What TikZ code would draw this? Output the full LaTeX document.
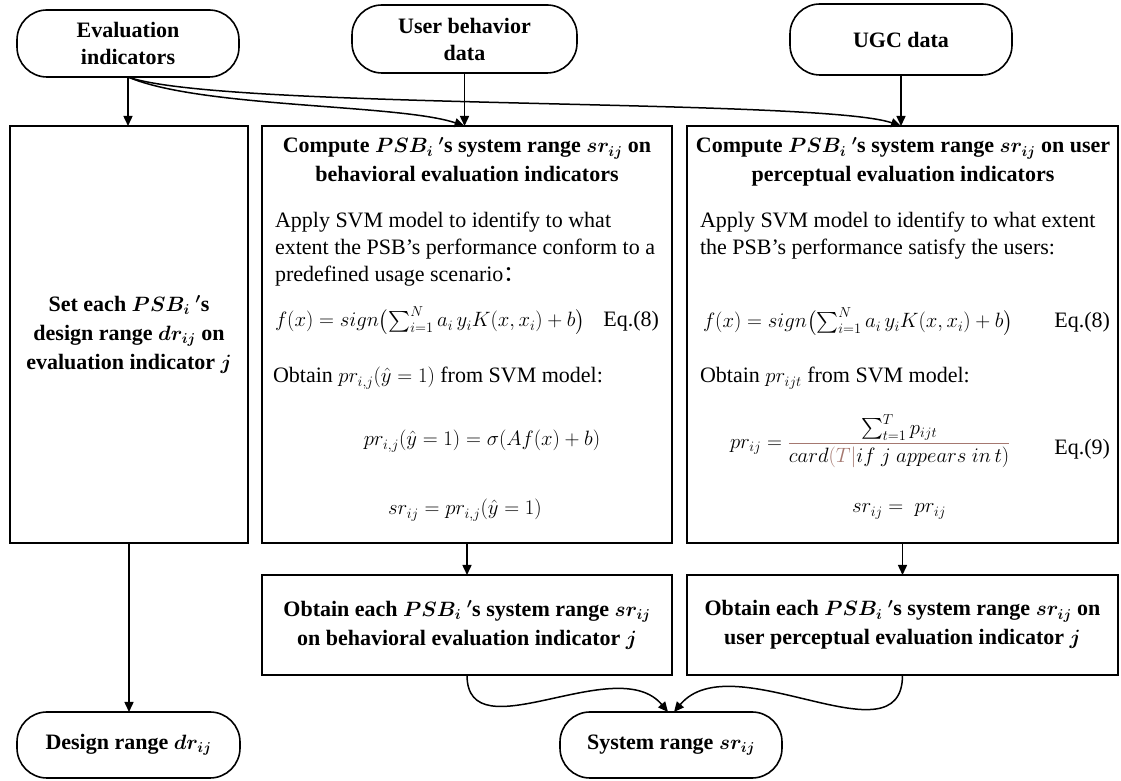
\documentclass[tikz,border=0pt]{standalone}
\usepackage{fontspec}
\setmainfont{Liberation Serif}
\newfontfamily\cjk{Noto Sans CJK SC}
\usepackage{amsmath}
\usetikzlibrary{arrows.meta}
\definecolor{fracbrown}{RGB}{165,120,112}

\begin{document}
\begin{tikzpicture}[x=1pt,y=1pt,
  every node/.style={inner sep=0pt, outer sep=0pt},
  pill/.style={draw, line width=1.6pt, rounded corners=30pt,
    minimum width=222pt, minimum height=67pt, align=center,
    font=\fontsize{22}{27}\selectfont\bfseries\boldmath},
  stepbox/.style={draw, line width=1.6pt, align=center,
    font=\fontsize{22}{29}\selectfont\bfseries\boldmath},
  titletext/.style={font=\fontsize{22}{29}\selectfont\bfseries\boldmath},
  bodytext/.style={font=\fontsize{22}{27}\selectfont},
  arr/.style={line width=1.5pt, -{Triangle[length=10pt,width=9pt]}}
]
\useasboundingbox (0,0) rectangle (1121,781);

% start and end terminals
\node[pill] (evalpill) at (128,737.5) {Evaluation\\indicators};
\node[pill, minimum width=225pt, minimum height=68pt] (userpill) at (464.5,742) {User behavior\\data};
\node[pill, minimum height=71pt] (ugcpill) at (901,741.5) {UGC data};
\node[pill, minimum width=223pt, minimum height=66pt] (designpill) at (128.5,36) {Design range $dr_{ij}$};
\node[pill, minimum height=66pt] (syspill) at (671,36) {System range $sr_{ij}$};

% process boxes
\node[stepbox, minimum width=238pt, minimum height=417pt] (setbox) at (129,446.5)
  {Set each $PSB_i$ $'$s\\design range $dr_{ij}$ on\\evaluation indicator $j$};
\node[stepbox, minimum width=410pt, minimum height=417pt] (behbox) at (467,446.5) {};
\node[stepbox, minimum width=431pt, minimum height=417pt] (ugcbox) at (902.5,446.5) {};
\node[stepbox, minimum width=410pt, minimum height=100pt] (behlow) at (467,156)
  {Obtain each $PSB_i$ $'$s system range $sr_{ij}$\\on behavioral evaluation indicator $j$};
\node[stepbox, minimum width=431pt, minimum height=100pt] (ugclow) at (902.5,156)
  {Obtain each $PSB_i$ $'$s system range $sr_{ij}$ on\\user perceptual evaluation indicator $j$};

% behavioural box contents
\node[titletext, anchor=base] (behtA) at (467,628) {Compute $PSB_i$ $'$s system range $sr_{ij}$ on};
\node[titletext, anchor=base] (behtB) at (467,599) {behavioral evaluation indicators};
\node[bodytext, anchor=base west] (behpA) at (275,553) {Apply SVM model to identify to what};
\node[bodytext, anchor=base west] (behpB) at (275,526) {extent the PSB’s performance conform to a};
\node[bodytext, anchor=base west] (behpC) at (275,499) {predefined usage scenario{\cjk ：}};
\node[bodytext, anchor=base west] (beheq) at (275,454)
  {$f(x) = sign\bigl(\sum_{i=1}^{N} a_i\, y_i K(x,x_i) + b\bigr)$};
\node[bodytext, anchor=base east] (beheqno) at (659,454) {Eq.(8)};
\node[bodytext, anchor=base west] (behob) at (273,398) {Obtain $pr_{i,j}(\hat{y} = 1)$ from SVM model:};
\node[bodytext, anchor=base] (behsig) at (482,335) {$pr_{i,j}(\hat{y} = 1) = \sigma(Af(x) + b)$};
\node[bodytext, anchor=base] (behsr) at (465,266) {$sr_{ij} = pr_{i,j}(\hat{y} = 1)$};

% perceptual box contents
\node[titletext, anchor=base] (ugctA) at (903,628) {Compute $PSB_i$ $'$s system range $sr_{ij}$ on user};
\node[titletext, anchor=base] (ugctB) at (903,599) {perceptual evaluation indicators};
\node[bodytext, anchor=base west] (ugcpA) at (700,553) {Apply SVM model to identify to what extent};
\node[bodytext, anchor=base west] (ugcpB) at (700,526) {the PSB’s performance satisfy the users:};
\node[bodytext, anchor=base west] (ugceq) at (703,453)
  {$f(x) = sign\bigl(\sum_{i=1}^{N} a_i\, y_i K(x,x_i) + b\bigr)$};
\node[bodytext, anchor=base east] (ugceqno) at (1110,453) {Eq.(8)};
\node[bodytext, anchor=base west] (ugcob) at (700,398) {Obtain $pr_{ijt}$ from SVM model:};
\node[bodytext, anchor=west] (ugcfrac) at (730,340)
  {$pr_{ij} = {\color{fracbrown}\dfrac{\color{black}\textstyle\sum_{t=1}^{T} p_{ijt}}%
    {\color{black}card{\color{fracbrown}(T|}if\ j\ appears\ in\,t)}}$};
\node[bodytext, anchor=base east] (ugceqnoB) at (1110,326) {Eq.(9)};
\node[bodytext, anchor=base] (ugcsr) at (899,268) {$sr_{ij} = \ pr_{ij}$};

% connectors
\draw[arr] (evalpill.south) -- (evalpill.south |- setbox.north);
\draw[arr] (userpill.south) -- (userpill.south |- behbox.north);
\draw[arr] (ugcpill.south) -- (ugcpill.south |- ugcbox.north);
\draw[arr] (evalpill.south) .. controls (200,673) and (400,677) .. (userpill.south |- behbox.north);
\draw[arr] (evalpill.south) .. controls (220,671) and (820,683) .. (ugcpill.south |- ugcbox.north);
\draw[arr] (behbox.south) -- (behlow.north);
\draw[arr] (ugcbox.south) -- (ugclow.north);
\draw[arr] (setbox.south) -- (setbox.south |- designpill.north);
\draw[arr] (behlow.south) to[out=-90, in=130] ([xshift=-3pt]syspill.north);
\draw[arr] (ugclow.south) to[out=-90, in=50] ([xshift=3pt]syspill.north);
\end{tikzpicture}
\end{document}
